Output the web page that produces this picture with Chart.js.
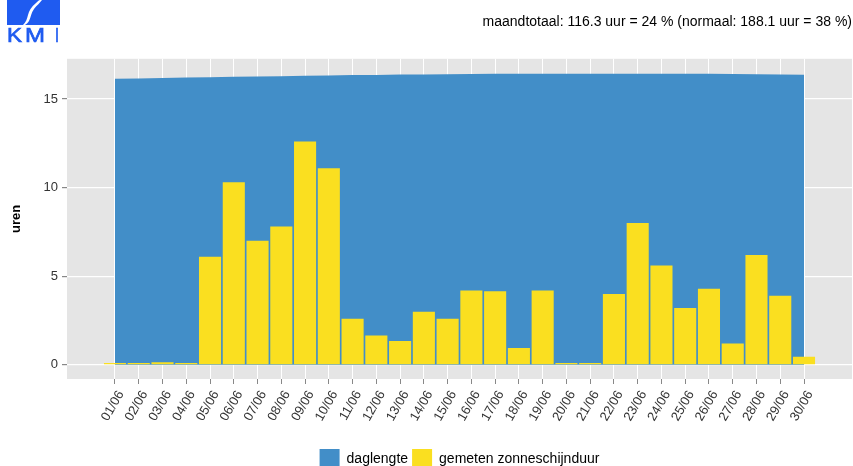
<!DOCTYPE html>
<html>
<head>
<meta charset="utf-8">
<script src="https://cdn.jsdelivr.net/npm/chart.js@4/dist/chart.umd.min.js"></script>
<style>
  html, body { margin: 0; padding: 0; background: #fff; }
  #wrap { position: relative; width: 853px; height: 466px; overflow: hidden; }
  #logo { position: absolute; left: 0; top: 0; }
</style>
</head>
<body>
<div id="wrap">
  <canvas id="chart" width="853" height="479"></canvas>
  <svg id="logo" width="62" height="46" viewBox="0 0 62 46">
    <rect x="7" y="0" width="53" height="25" fill="#1f5bf0"/>
    <path d="M42 0 C40 3 37 5 34 9 C31 13 31 17 29 21 C28 23 26 24 25 25 L23 25 C26 22 27 19 28 15 C29 11 31 7 36 3 C38 1 39 0 40 0 Z" fill="#fff"/>
    <g fill="#1f5bf0" stroke="#1f5bf0" stroke-width="0.7" font-family="Liberation Sans, Arial, sans-serif" font-size="21">
      <text x="7" y="42" textLength="15" lengthAdjust="spacingAndGlyphs">K</text>
      <text x="25" y="42" textLength="20" lengthAdjust="spacingAndGlyphs">M</text>
      <text x="55" y="42" textLength="4" lengthAdjust="spacingAndGlyphs">I</text>
    </g>
  </svg>
</div>
<script>
const dayLabels = [
  "01/06","02/06","03/06","04/06","05/06","06/06","07/06","08/06","09/06","10/06",
  "11/06","12/06","13/06","14/06","15/06","16/06","17/06","18/06","19/06","20/06",
  "21/06","22/06","23/06","24/06","25/06","26/06","27/06","28/06","29/06","30/06"
];

// daglengte (uren)
const dayLength = [
  16.14,16.16,16.18,16.21,16.23,16.25,16.27,16.29,16.31,16.33,
  16.35,16.36,16.38,16.39,16.40,16.41,16.42,16.42,16.43,16.43,
  16.43,16.43,16.43,16.43,16.42,16.42,16.41,16.40,16.39,16.37
];

// gemeten zonneschijnduur (uren)
const sunshine = [
  0.1,0.1,0.15,0.1,6.1,10.3,7.0,7.8,12.6,11.1,
  2.6,1.65,1.35,3.0,2.6,4.2,4.15,0.95,4.2,0.1,
  0.1,4.0,8.0,5.6,3.2,4.3,1.2,6.2,3.9,0.45
];

const yTicks = [0,5,10,15];

const blue = "#428ec8";
const yellow = "#fadf20";
const font = "'Liberation Sans', Arial, sans-serif";

// grey ggplot-like panel behind the plot
const panelBg = {
  id:"panelBg",
  beforeDraw(chart){
    const {ctx, chartArea} = chart;
    ctx.save();
    ctx.fillStyle = "#e5e5e5";
    ctx.fillRect(chartArea.left, chartArea.top,
      chartArea.right - chartArea.left, chartArea.bottom - chartArea.top);
    ctx.restore();
  }
};

// center the legend under the panel instead of the whole canvas
const legendUnderPanel = {
  id:"legendUnderPanel",
  afterLayout(chart){
    const lg = chart.legend;
    const shift = ((chart.chartArea.left + chart.chartArea.right) - (lg.left + lg.right)) / 2;
    lg.left += shift;
    lg.right += shift;
    lg.legendHitBoxes.forEach(b=>{ b.left += shift; });
  }
};

new Chart(
document.getElementById("chart"),
{
  type:"bar",
  data:{
    datasets:[
    {
      type:"line",
      label:"daglengte",
      data:dayLength.map((v,i)=>({x:i+1, y:v})),
      backgroundColor:blue,
      borderColor:blue,
      borderWidth:0,
      pointRadius:0,
      fill:"origin",
      order:2
    },
    {
      label:"gemeten zonneschijnduur",
      data:sunshine.map((v,i)=>({x:i+1, y:v})),
      backgroundColor:yellow,
      borderWidth:0,
      barPercentage:0.93,
      categoryPercentage:1,
      order:1
    }
    ]
  },
  options:{
    responsive:false,
    animation:false,
    layout:{ padding:{ left:0, right:1, top:0, bottom:0 } },
    plugins:{
      title:{
        display:true,
        text:"maandtotaal: 116.3 uur = 24 % (normaal: 188.1 uur = 38 %)",
        align:"end",
        color:"#000",
        font:{ family:font, size:14, weight:"normal" },
        padding:{ top:14, bottom:28 }
      },
      legend:{
        position:"bottom",
        labels:{
          boxWidth:20,
          boxHeight:20,
          padding:4,
          color:"#000",
          font:{ family:font, size:14 },
          sort:(a,b)=>a.datasetIndex - b.datasetIndex
        }
      },
      tooltip:{ enabled:false }
    },
    scales:{
      x:{
        type:"linear",
        offset:false,
        min:-1.02,
        max:32.02,
        afterBuildTicks:(scale)=>{
          scale.ticks = dayLabels.map((l,i)=>({value:i+1}));
        },
        afterFit:(scale)=>{ scale.height = 66; },
        ticks:{
          autoSkip:false,
          minRotation:60,
          maxRotation:60,
          padding:4,
          labelOffset:6,
          color:"#333",
          font:{ family:font, size:13 },
          callback:(v)=>dayLabels[v-1]
        },
        grid:{ offset:false, color:"#ffffff", lineWidth:1, tickColor:"#888", tickLength:5 },
        border:{ display:false }
      },
      y:{
        min:-0.8,
        max:17.27,
        afterBuildTicks:(scale)=>{
          scale.ticks = yTicks.map(v=>({value:v}));
        },
        afterFit:(scale)=>{ scale.width = 67; },
        title:{
          display:true,
          text:"uren",
          color:"#000",
          font:{ family:font, size:13, weight:"bold" },
          padding:{ top:9, bottom:0 }
        },
        ticks:{
          color:"#333",
          padding:4,
          font:{ family:font, size:13 }
        },
        grid:{ color:"#ffffff", lineWidth:1.2, tickColor:"#888", tickLength:5 },
        border:{ display:false }
      }
    }
  },
  plugins:[panelBg, legendUnderPanel]
});
</script>
</body>
</html>
